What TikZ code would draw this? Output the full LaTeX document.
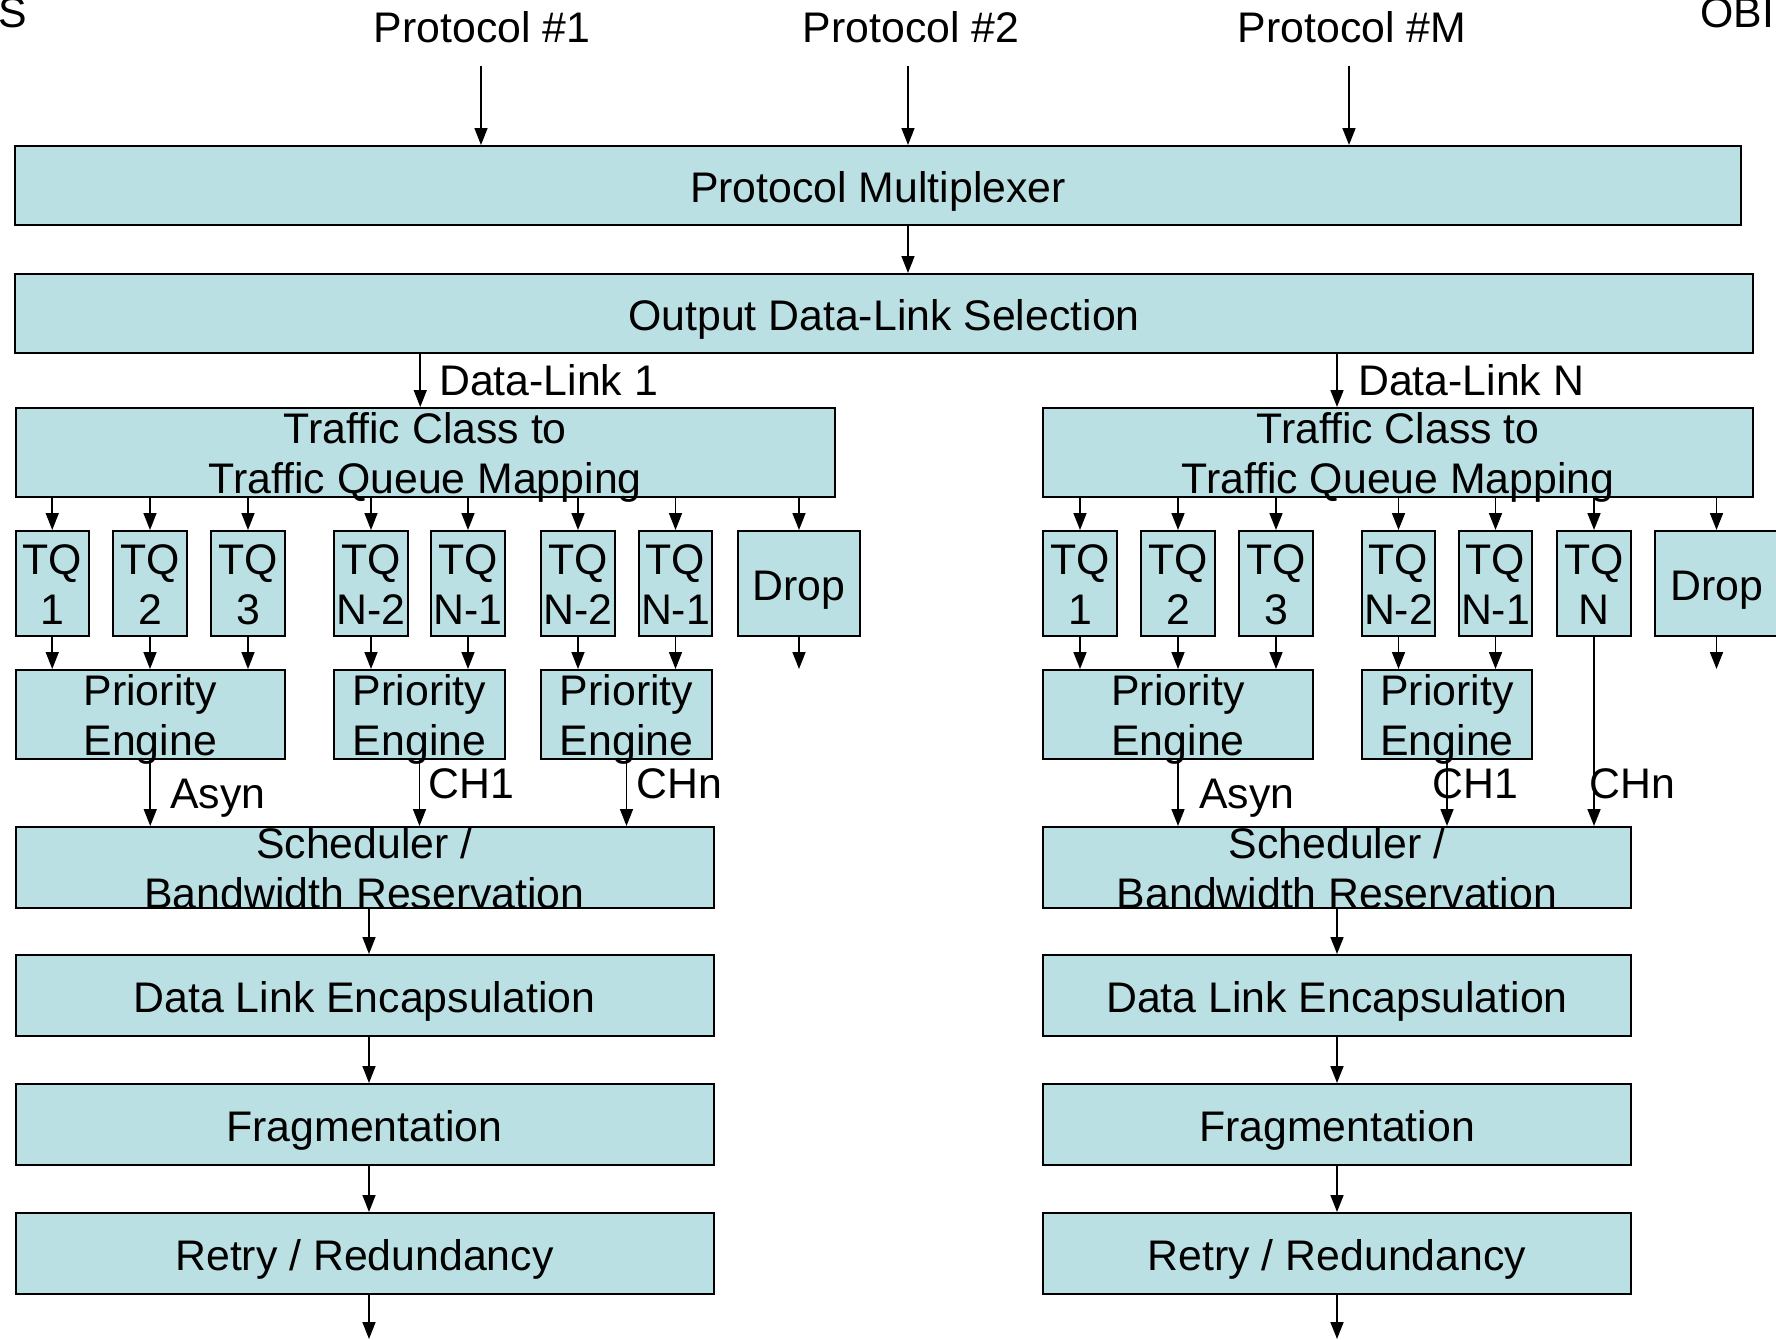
\documentclass[tikz,border=0pt]{standalone}
\usepackage{fontspec}
\setmainfont{Liberation Sans}
\usetikzlibrary{arrows.meta}
\definecolor{boxfill}{RGB}{187,224,227}
% text set so that the caps are centred on the node centre
\newcommand\oneline[1]{\raisebox{-16.5pt}[0pt][0pt]{\makebox[0pt]{#1}}}
\newcommand\twolines[2]{\raisebox{-41pt}[0pt][0pt]{\makebox[0pt]{\begin{tabular}[b]{@{}c@{}}#1\\#2\end{tabular}}}}
% \blk{name}{x1}{y1}{x2}{y2}{text}: a filled block given by its corners
\newcommand\blk[6]{\node[blk, minimum width={#4-#2}, minimum height={#5-#3}] (#1) at ({(#2+#4)/2},{(#3+#5)/2}) {#6};}
\begin{document}
\begin{tikzpicture}[x=1pt,y=-1pt,
  blk/.style={draw, line width=2pt, fill=boxfill, inner sep=0pt, font=\fontsize{42.8}{50}\selectfont},
  lbl/.style={inner sep=0pt, font=\fontsize{42.8}{50}\selectfont},
  arr/.style={line width=1.6pt, -{Triangle[width=13pt,length=17pt]}}]
\useasboundingbox (0,0) rectangle (1776,1339);

% cut-off captions at the top corners
\node[lbl, anchor=base east] (capl) at (27,27) {S};
\node[lbl, anchor=base west] (capr) at (1700,27) {OBI};

% protocols
\node[lbl, anchor=base] (p1) at (482,42) {Protocol \#1};
\node[lbl, anchor=base] (p2) at (911,42) {Protocol \#2};
\node[lbl, anchor=base] (pM) at (1352,42) {Protocol \#M};
\coordinate (p1s) at (481,66);
\coordinate (p2s) at (908,66);
\coordinate (pMs) at (1349,66);

\blk{pm}{15}{146}{1741}{225}{\oneline{Protocol Multiplexer}}
\blk{odls}{15}{274}{1753}{353}{\oneline{Output Data-Link Selection}}

\draw[arr] (p1s) -- (p1s |- pm.north);
\draw[arr] (p2s) -- (p2s |- pm.north);
\draw[arr] (pMs) -- (pMs |- pm.north);
\draw[arr] ([xshift=30pt]pm.south) -- ([xshift=30pt]pm.south |- odls.north);

% ---------- data link 1 ----------
\blk{tcL}{15.5}{408}{835}{497}{\twolines{Traffic Class to}{Traffic Queue Mapping}}
\draw[arr] ([xshift=-5pt]tcL.north |- odls.south) -- ([xshift=-5pt]tcL.north);
\node[lbl, anchor=base west] (dl1) at (439,395) {Data-Link 1};

\blk{tqLa}{15.5}{531}{89}{636}{\twolines{TQ}{1}}
\blk{tqLb}{113}{531}{187}{636}{\twolines{TQ}{2}}
\blk{tqLc}{211}{531}{285}{636}{\twolines{TQ}{3}}
\blk{tqLd}{334}{531}{408}{636}{\twolines{TQ}{N-2}}
\blk{tqLe}{431}{531}{505}{636}{\twolines{TQ}{N-1}}
\blk{tqLf}{541}{531}{615}{636}{\twolines{TQ}{N-2}}
\blk{tqLg}{639}{531}{712}{636}{\twolines{TQ}{N-1}}
\blk{dropL}{738}{531}{860}{636}{\oneline{Drop}}

\blk{peLa}{15.5}{670}{285}{759}{\twolines{Priority}{Engine}}
\blk{peLb}{334}{670}{505}{759}{\twolines{Priority}{Engine}}
\blk{peLc}{541}{670}{712}{759}{\twolines{Priority}{Engine}}

\foreach \q in {tqLa,tqLb,tqLc,tqLd,tqLe,tqLf,tqLg,dropL}
  \draw[arr] (\q.north |- tcL.south) -- (\q.north);
\foreach \q/\p in {tqLa/peLa,tqLb/peLa,tqLc/peLa,tqLd/peLb,tqLe/peLb,tqLf/peLc,tqLg/peLc,dropL/peLa}
  \draw[arr] (\q.south) -- (\q.south |- \p.north);

\blk{schL}{15.5}{827}{713.5}{908}{\twolines{Scheduler /}{Bandwidth Reservation}}
\blk{dleL}{15.5}{955}{713.5}{1036}{\oneline{Data Link Encapsulation}}
\blk{fragL}{15.5}{1084}{713.5}{1165}{\oneline{Fragmentation}}
\blk{retL}{15.5}{1213}{713.5}{1294}{\oneline{Retry / Redundancy}}

\foreach \p in {peLa,peLb,peLc}
  \draw[arr] (\p.south) -- (\p.south |- schL.north);
\node[lbl, anchor=base west] (asL) at (170,808) {Asyn};
\node[lbl, anchor=base west] (c1L) at (428,798) {CH1};
\node[lbl, anchor=base west] (cnL) at (636,798) {CHn};

\coordinate (outL) at (369,1339);
\draw[arr] (schL.south -| outL) -- (dleL.north -| outL);
\draw[arr] (dleL.south -| outL) -- (fragL.north -| outL);
\draw[arr] (fragL.south -| outL) -- (retL.north -| outL);
\draw[arr] (retL.south -| outL) -- (outL);

% ---------- data link N ----------
\blk{tcR}{1043}{408}{1753}{497}{\twolines{Traffic Class to}{Traffic Queue Mapping}}
\draw[arr] ([xshift=-61pt]tcR.north |- odls.south) -- ([xshift=-61pt]tcR.north);
\node[lbl, anchor=base west] (dlN) at (1358,395) {Data-Link N};

\blk{tqRa}{1043}{531}{1117}{636}{\twolines{TQ}{1}}
\blk{tqRb}{1141}{531}{1215}{636}{\twolines{TQ}{2}}
\blk{tqRc}{1239}{531}{1313}{636}{\twolines{TQ}{3}}
\blk{tqRd}{1362}{531}{1435}{636}{\twolines{TQ}{N-2}}
\blk{tqRe}{1459}{531}{1532}{636}{\twolines{TQ}{N-1}}
\blk{tqRf}{1557}{531}{1631}{636}{\twolines{TQ}{N}}
\blk{dropR}{1655}{531}{1778}{636}{\oneline{Drop}}

\blk{peRa}{1043}{670}{1313}{759}{\twolines{Priority}{Engine}}
\blk{peRb}{1362}{670}{1532}{759}{\twolines{Priority}{Engine}}

\foreach \q in {tqRa,tqRb,tqRc,tqRd,tqRe,tqRf,dropR}
  \draw[arr] (\q.north |- tcR.south) -- (\q.north);
\foreach \q/\p in {tqRa/peRa,tqRb/peRa,tqRc/peRa,tqRd/peRb,tqRe/peRb,dropR/peRa}
  \draw[arr] (\q.south) -- (\q.south |- \p.north);

\blk{schR}{1043}{827}{1631}{908}{\twolines{Scheduler /}{Bandwidth Reservation}}
\blk{dleR}{1043}{955}{1631}{1036}{\oneline{Data Link Encapsulation}}
\blk{fragR}{1043}{1084}{1631}{1165}{\oneline{Fragmentation}}
\blk{retR}{1043}{1213}{1631}{1294}{\oneline{Retry / Redundancy}}

\foreach \p in {peRa,peRb,tqRf}
  \draw[arr] (\p.south) -- (\p.south |- schR.north);
\node[lbl, anchor=base west] (asR) at (1199,808) {Asyn};
\node[lbl, anchor=base west] (c1R) at (1432,798) {CH1};
\node[lbl, anchor=base west] (cnR) at (1589,798) {CHn};

\coordinate (outR) at (1337,1339);
\draw[arr] (schR.south -| outR) -- (dleR.north -| outR);
\draw[arr] (dleR.south -| outR) -- (fragR.north -| outR);
\draw[arr] (fragR.south -| outR) -- (retR.north -| outR);
\draw[arr] (retR.south -| outR) -- (outR);
\end{tikzpicture}
\end{document}
